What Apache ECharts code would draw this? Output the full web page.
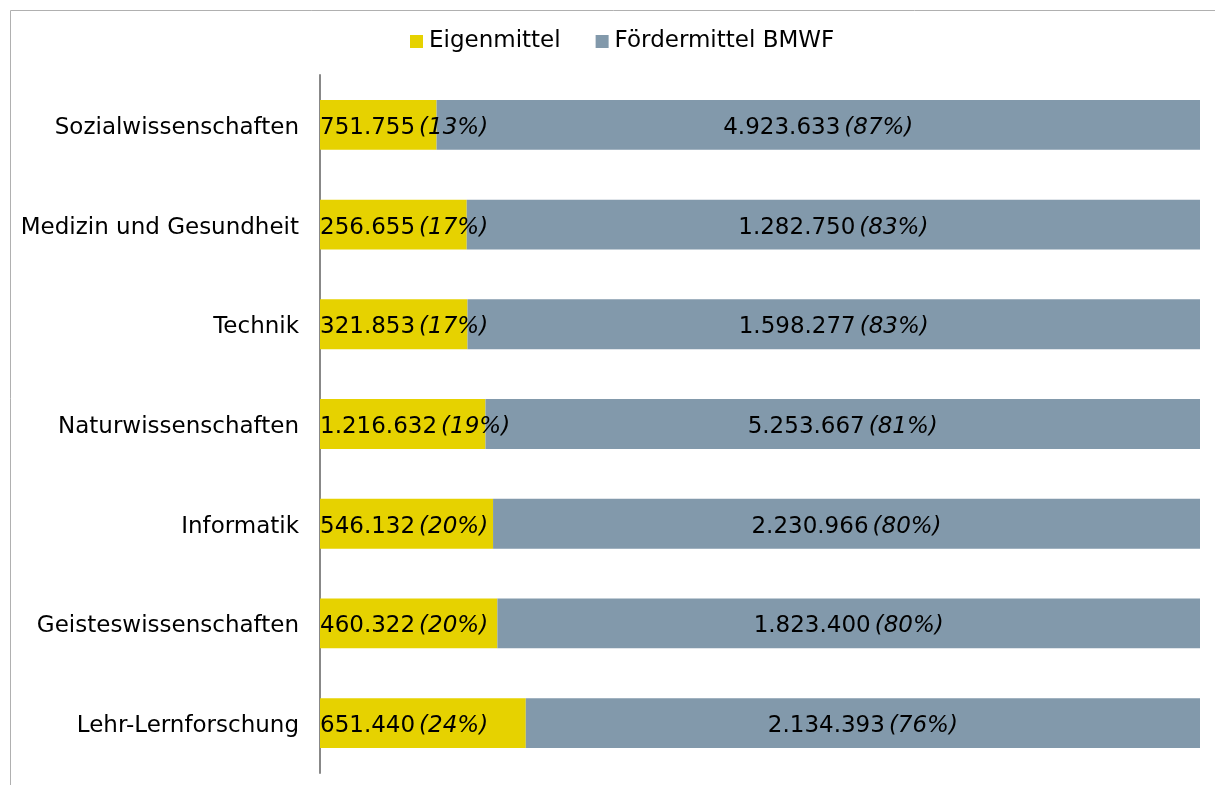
<!DOCTYPE html>
<html>
<head>
<meta charset="utf-8">
<script src="https://cdn.jsdelivr.net/npm/echarts@6/dist/echarts.min.js"></script>
<style>
  html, body { margin: 0; padding: 0; background: #fff; }
  #chart { width: 1215px; height: 785px; }
</style>
</head>
<body>
<div id="chart"></div>
<script>
const categories = ['Sozialwissenschaften', 'Medizin und Gesundheit', 'Technik', 'Naturwissenschaften', 'Informatik', 'Geisteswissenschaften', 'Lehr-Lernforschung']
const eigenmittel = [751755, 256655, 321853, 1216632, 546132, 460322, 651440]
const foerdermittel = [4923633, 1282750, 1598277, 5253667, 2230966, 1823400, 2134393]
const eigenPct = [13, 17, 17, 19, 20, 20, 24]
const foerderPct = [87, 83, 83, 81, 80, 80, 76]

const fmt = v => String(v).replace(/\B(?=(\d{3})+(?!\d))/g, '.')
const share = (a, b) => a.map((v, i) => v / (v + b[i]) * 100)

const font = 'DejaVu Sans, Verdana, sans-serif'
const rich = {
  n: { fontFamily: font, fontSize: 23, color: '#000' },
  p: { fontFamily: font, fontSize: 23, color: '#000', fontStyle: 'italic', padding: [0, 0, 0, 4] }
}

let chart = echarts.init(document.getElementById('chart'))
chart.setOption({
  animation: false,
  graphic: [{
    type: 'rect',
    shape: { x: 10.5, y: 10.5, width: 1240, height: 800 },
    style: { fill: 'none', stroke: '#b0b0b0', lineWidth: 1 },
    silent: true
  }],
  legend: {
    left: 405,
    top: 25,
    itemWidth: 13,
    itemHeight: 13,
    itemGap: 35,
    icon: 'rect',
    textStyle: { fontFamily: font, fontSize: 23, color: '#000', padding: [0, 0, 0, 1] },
    data: ['Eigenmittel', 'Fördermittel BMWF']
  },
  grid: { left: 320, right: 15, top: 75, bottom: 12, containLabel: false },
  xAxis: {
    type: 'value',
    min: 0,
    max: 100,
    show: false
  },
  yAxis: {
    type: 'category',
    inverse: true,
    data: categories,
    axisLine: { show: true, lineStyle: { color: '#888', width: 2 } },
    axisTick: { show: false },
    axisLabel: {
      margin: 21,
      formatter: v => '{c|' + v + '}',
      rich: { c: { fontFamily: font, fontSize: 23, color: '#000', padding: [6, 0, 0, 0] } }
    }
  },
  series: [
    {
      name: 'Eigenmittel',
      type: 'bar',
      stack: 'total',
      barWidth: '50%',
      itemStyle: { color: '#E6D200' },
      data: share(eigenmittel, foerdermittel),
      label: {
        show: true,
        position: 'insideLeft',
        distance: 0,
        offset: [0, 3],
        formatter: p => '{n|' + fmt(eigenmittel[p.dataIndex]) + '}{p|(' + eigenPct[p.dataIndex] + '%)}',
        rich
      }
    },
    {
      name: 'Fördermittel BMWF',
      type: 'bar',
      stack: 'total',
      barWidth: '50%',
      itemStyle: { color: '#8299AB' },
      data: share(foerdermittel, eigenmittel),
      label: {
        show: true,
        position: 'inside',
        offset: [0, 3],
        formatter: p => '{n|' + fmt(foerdermittel[p.dataIndex]) + '}{p|(' + foerderPct[p.dataIndex] + '%)}',
        rich
      }
    }
  ]
})
</script>
</body>
</html>
